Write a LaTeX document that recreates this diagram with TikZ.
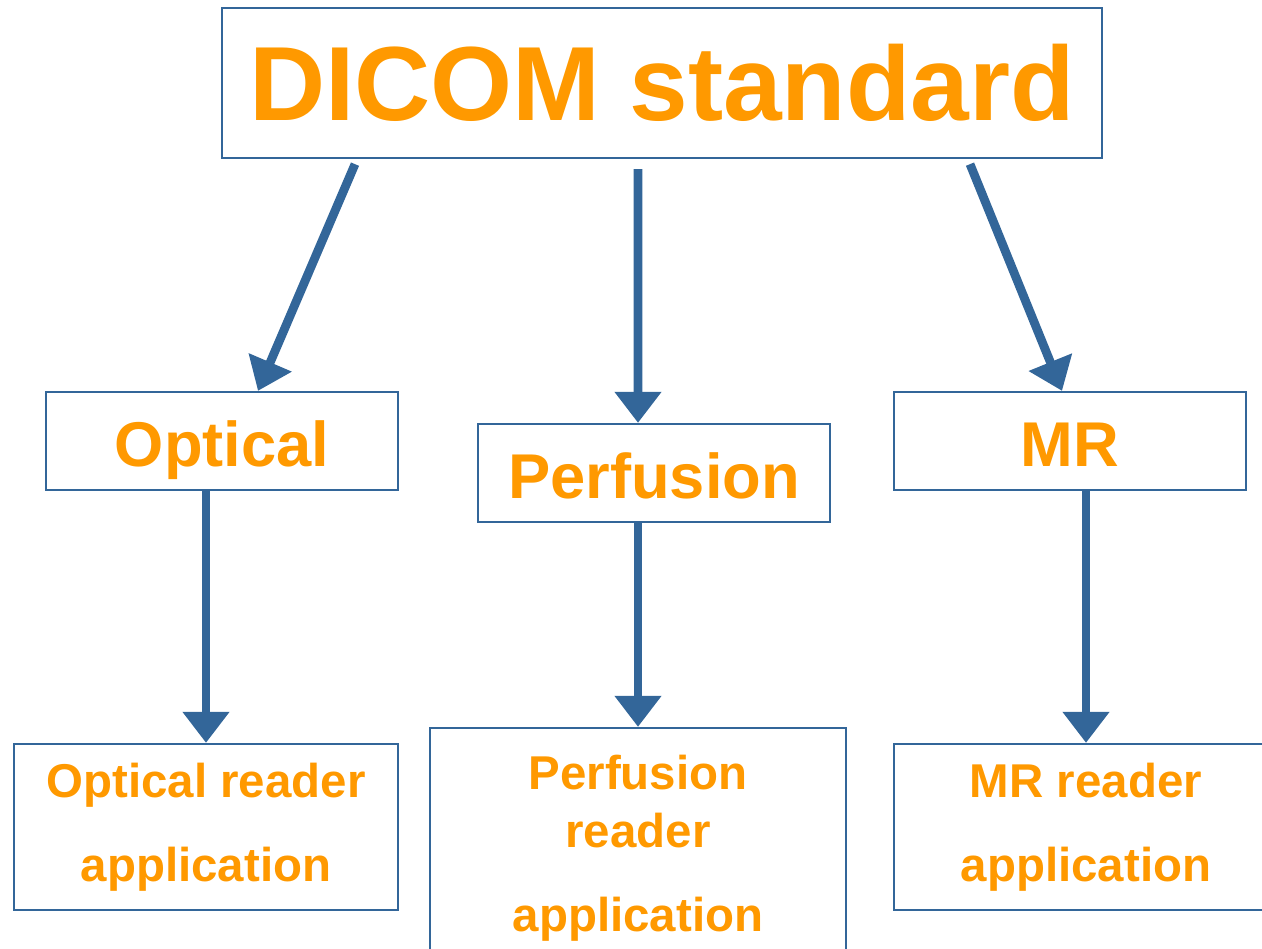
\documentclass[tikz,border=0pt]{standalone}
\usepackage{fontspec}
\setmainfont{Liberation Sans}
\usepackage{xcolor}
\usetikzlibrary{arrows.meta, positioning}
\definecolor{boxblue}{HTML}{336699}
\definecolor{textorange}{HTML}{FF9900}

\begin{document}
\begin{tikzpicture}[component/.style={
                rectangle,
                draw=boxblue,
                line width=1.3pt,
                inner sep=0pt,
                text=textorange,
                font=\bfseries,
                align=center,
        },
        modality/.style={
                component,
                minimum width=7.04cm,
                minimum height=1.96cm,
                text height=1cm,
                text depth=0cm,
                font=\bfseries\fontsize{36}{43}\selectfont,
        },
        link/.style={
                draw=boxblue,
                line width=5pt,
                -{Triangle[width=0.9cm, length=0.62cm]},
        }]
            \clip (0, 0) rectangle (25.24, -18.96);
            \node[component, minimum width=17.6cm, minimum height=3.0cm, font=\bfseries\fontsize{60}{72}\selectfont] (dicom) at (13.24, -1.66) {DICOM standard};
            \node[modality] (optical) at (4.44, -8.82) {Optical};
            \node[modality] (perfusion) at (13.08, -9.46) {Perfusion};
            \node[modality] (mr) at (21.4, -8.82) {MR};
            \node[component, minimum width=7.68cm, minimum height=3.32cm, font=\bfseries\fontsize{27}{48}\selectfont] (opticalapp) at (4.12, -16.54) {Optical reader\\application};
            \node[component, minimum width=8.32cm, minimum height=4.8cm, font=\bfseries\fontsize{27}{33}\selectfont] (perfusionapp) at (12.76, -16.96) {Perfusion\\reader\\[15pt]application};
            \node[component, minimum width=7.68cm, minimum height=3.32cm, font=\bfseries\fontsize{27}{48}\selectfont] (mrapp) at (21.72, -16.54) {MR reader\\application};
            % first level
            \draw[link] ([xshift=-6.14cm, yshift=-0.1cm]dicom.south) -- ([xshift=0.72cm]optical.north);
            \draw[link] ([xshift=-0.48cm, yshift=-0.2cm]dicom.south) -- ([xshift=-0.32cm]perfusion.north);
            \draw[link] ([xshift=6.16cm, yshift=-0.1cm]dicom.south) -- ([xshift=-0.16cm]mr.north);
            % second level
            \draw[link] (optical.south -| opticalapp.north) -- (opticalapp.north);
            \draw[link] (perfusion.south -| perfusionapp.north) -- (perfusionapp.north);
            \draw[link] (mr.south -| mrapp.north) -- (mrapp.north);
        \end{tikzpicture}
\end{document}
